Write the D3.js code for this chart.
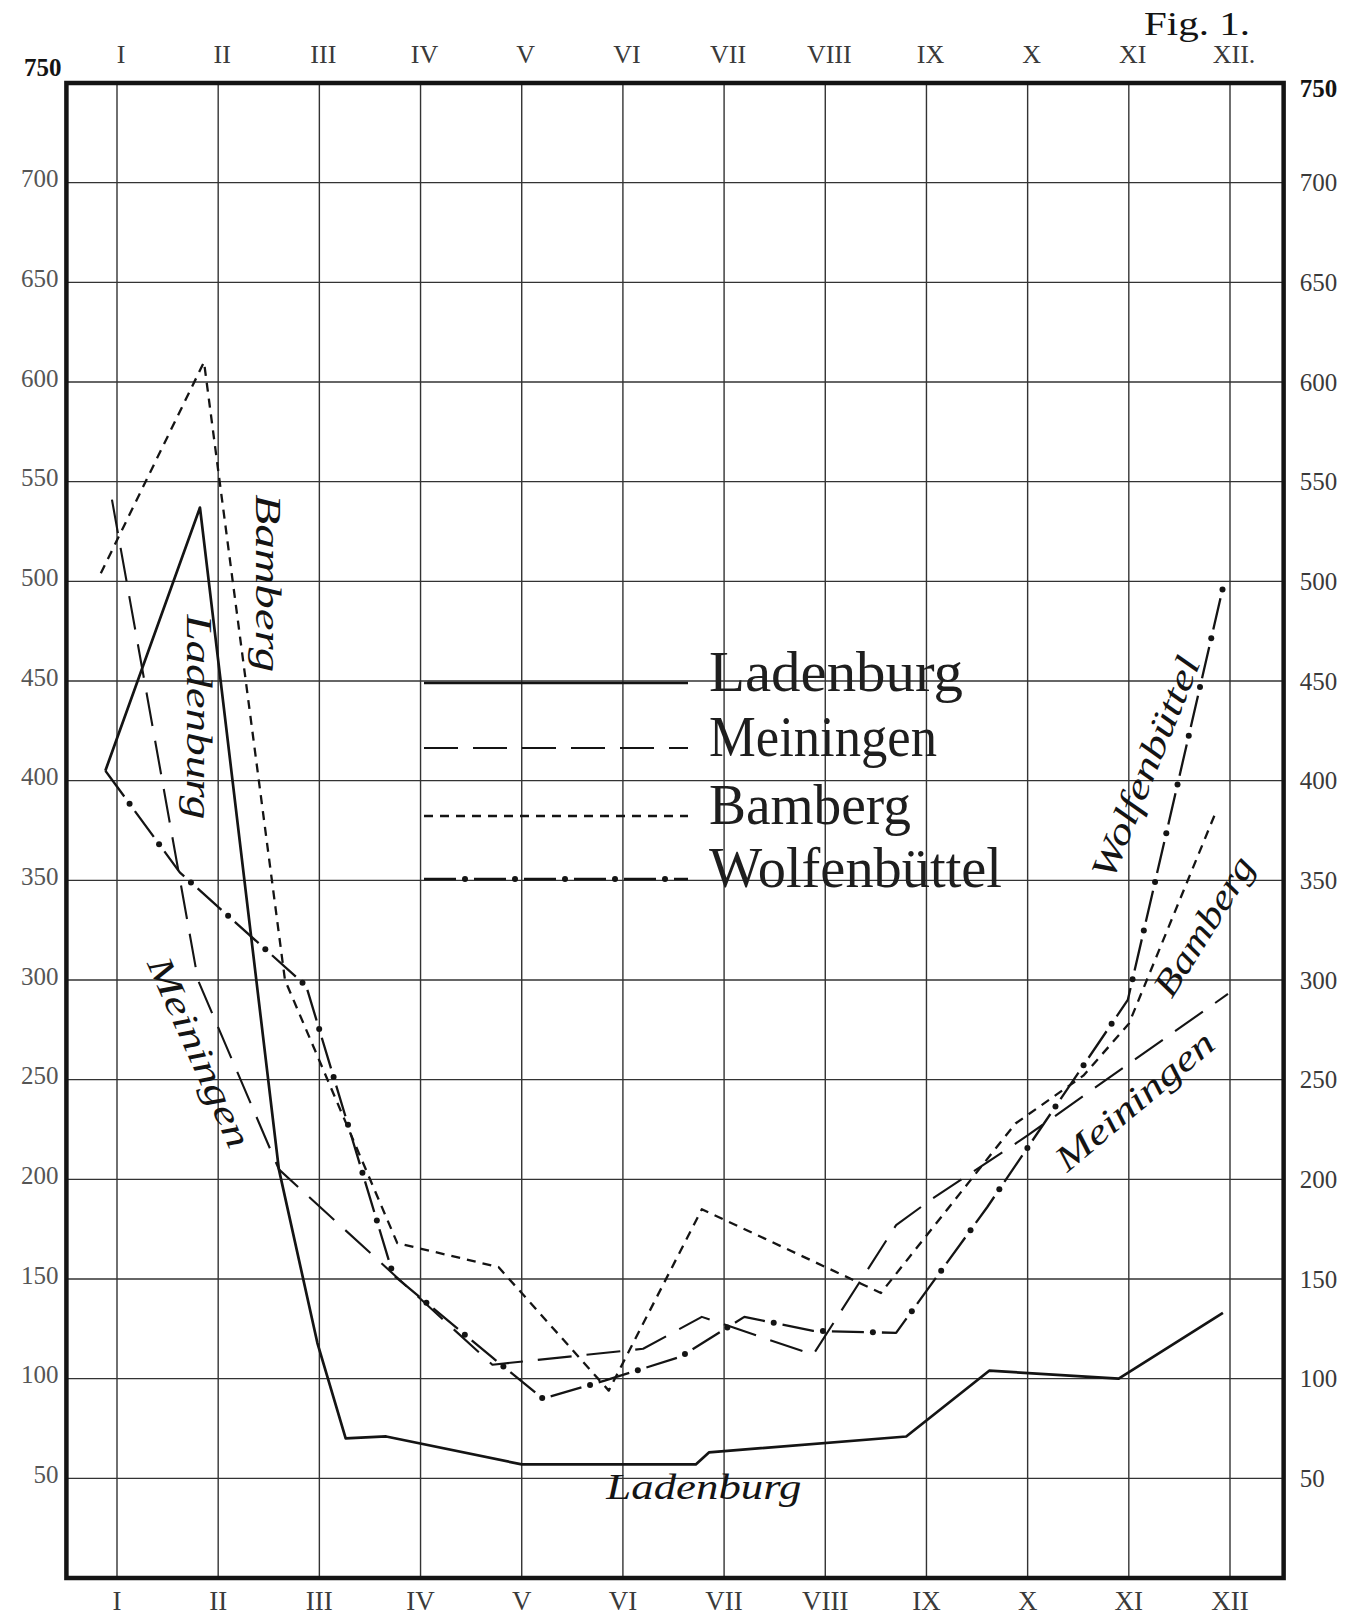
<!DOCTYPE html>
<html><head><meta charset="utf-8">
<script src="https://cdn.jsdelivr.net/npm/d3@7"></script>
<style>
html,body{margin:0;padding:0;background:#fff;}
svg{display:block;}
</style></head><body>
<svg id="chart" width="1362" height="1623"></svg>
<script>
// ---------- data ----------
const monthsBottom = ["I","II","III","IV","V","VI","VII","VIII","IX","X","XI","XII"];
const monthsTop = ["I","II","III","IV","V","VI","VII","VIII","IX","X","XI","XII."];
const yTicks = [50,100,150,200,250,300,350,400,450,500,550,600,650,700];
const yTickTop = 750;
const seriesNames = ["Ladenburg","Meiningen","Bamberg","Wolfenbüttel"];

// [month position, value]
const ladenburg = [[0.885,405],[1.82,537],[2.6,205],[2.98,118],[3.26,70],[3.66,71],[5.0,57],[6.72,57],[6.85,63],[8.8,71],[9.62,104],[10.9,100],[11.93,133]];
const meiningen = [[0.95,541],[1.8,300],[2.6,205],[4.71,107],[6.2,115],[6.78,131],[7.88,112],[8.7,177],[9.05,190],[10.0,222],[11.0,258],[11.98,293]];
const bamberg = [[0.84,504],[1.86,610],[2.66,300],[3.77,168],[4.77,156],[5.86,94],[6.78,185],[8.55,143],[9.88,228],[10.55,252],[11.0,278],[11.85,383]];
const wolfenbuettel = [[0.885,405],[1.62,354],[2.87,297],[3.73,152],[4.70,111],[5.21,90],[5.82,99],[6.57,111],[7.2,131],[7.88,124],[8.7,123],[9.6,186],[10.99,290],[11.94,499]];

// handwritten labels along the curves: [text, month, value, angle]
const curveLabels = [
  ["Bamberg", 2.46, 499, 90],
  ["Ladenburg", 1.77, 432, 90],
  ["Meiningen", 1.78, 263, 66],
  ["Ladenburg", 6.8, 44, 0],
  ["Wolfenbüttel", 11.2, 406, -68],
  ["Bamberg", 11.77, 326, -58],
  ["Meiningen", 11.08, 238, -40]
];
const curveLabelLengths = [178, 205, 205, 195, 236, 158, 196];

// ---------- layout ----------
const svg = d3.select("#chart");
const ink = "#141414";
const x = d3.scaleLinear().domain([1,12]).range([117,1230]);
const y = d3.scaleLinear().domain([0,750]).range([1578,83]);
const frameL = x(0.5), frameR = x(12.53), frameT = y(750), frameB = y(0);

const serif = "'Liberation Serif','DejaVu Serif',serif";

// grid
const grid = svg.append("g").attr("stroke","#333").attr("stroke-width",1.4);
grid.selectAll("line.v").data(d3.range(1,13)).join("line")
  .attr("x1",d=>x(d)).attr("x2",d=>x(d)).attr("y1",frameT).attr("y2",frameB);
grid.selectAll("line.h").data(yTicks).join("line")
  .attr("x1",frameL).attr("x2",frameR).attr("y1",d=>y(d)).attr("y2",d=>y(d));

// frame
svg.append("rect").attr("x",frameL).attr("y",frameT)
  .attr("width",frameR-frameL).attr("height",frameB-frameT)
  .attr("fill","none").attr("stroke",ink).attr("stroke-width",4.5);

// y tick labels (left & right) via axes
const leftAxis = d3.axisLeft(y).tickValues(yTicks).tickSize(0).tickPadding(8).tickFormat(d3.format("d"));
const la = svg.append("g").attr("transform",`translate(${frameL},-4)`).call(leftAxis);
la.select(".domain").remove();
la.selectAll("text").attr("font-family",serif).attr("font-size",25).attr("fill","#555");
const rightAxis = d3.axisRight(y).tickValues(yTicks).tickSize(0).tickPadding(16).tickFormat(d3.format("d"));
const ra = svg.append("g").attr("transform",`translate(${frameR},0)`).call(rightAxis);
ra.select(".domain").remove();
ra.selectAll("text").attr("font-family",serif).attr("font-size",25).attr("fill","#3a3a3a");

// 750 labels
svg.append("text").attr("x",frameL-5).attr("y",y(yTickTop)-13).attr("text-anchor","end")
  .attr("dominant-baseline","middle").attr("font-family",serif).attr("font-weight","bold")
  .attr("font-size",25).attr("fill",ink).text(yTickTop);
svg.append("text").attr("x",frameR+16).attr("y",y(yTickTop)+8)
  .attr("dominant-baseline","middle").attr("font-family",serif).attr("font-weight","bold")
  .attr("font-size",25).attr("fill",ink).text(yTickTop);

// month labels
svg.append("g").selectAll("text").data(monthsTop).join("text")
  .attr("x",(d,i)=>x(i+1)+4).attr("y",57).attr("text-anchor","middle").attr("dominant-baseline","middle")
  .attr("font-family",serif).attr("font-size",26).attr("fill","#3a3a3a").text(d=>d);
svg.append("g").selectAll("text").data(monthsBottom).join("text")
  .attr("x",(d,i)=>x(i+1)).attr("y",1604).attr("text-anchor","middle").attr("dominant-baseline","middle")
  .attr("font-family",serif).attr("font-size",27).attr("fill","#3a3a3a").text(d=>d);

// Fig. 1.
svg.append("text").attr("x",1144).attr("y",35).attr("font-family",serif).attr("font-size",33)
  .attr("textLength",106).attr("lengthAdjust","spacingAndGlyphs").attr("fill",ink).text("Fig. 1.");

// ---------- series ----------
const line = d3.line().x(d=>x(d[0])).y(d=>y(d[1]));
const styles = [
  {dash:null, w:2.7},
  {dash:"34 15", w:2.1},
  {dash:"9 7", w:2.3},
  {dash:"32 18", w:2.3, dots:true}
];
const allSeries = [ladenburg, meiningen, bamberg, wolfenbuettel];
const lines = svg.append("g").attr("fill","none").attr("stroke",ink).attr("stroke-linejoin","round");

function addDots(pathSel, dashLen, gapLen, parent){
  const node = pathSel.node();
  const L = node.getTotalLength();
  for (let s = dashLen + gapLen/2; s < L; s += dashLen + gapLen){
    const p = node.getPointAtLength(s);
    parent.append("circle").attr("cx",p.x).attr("cy",p.y).attr("r",3).attr("fill",ink).attr("stroke","none");
  }
}

allSeries.forEach((data,i)=>{
  const st = styles[i];
  const p = lines.append("path").attr("d",line(data)).attr("stroke-width",st.w);
  if (st.dash) p.attr("stroke-dasharray",st.dash);
  if (st.dots) addDots(p,32,18,lines);
});

// ---------- legend ----------
const legendX0 = 424, legendX1 = 688;
const legendY = [683, 748, 816, 879];
const legendTextLen = [254, 228, 202, 293];
const lg = svg.append("g");
seriesNames.forEach((name,i)=>{
  const st = styles[i];
  const p = lg.append("path").attr("d",`M${legendX0},${legendY[i]}H${legendX1}`)
    .attr("stroke",ink).attr("stroke-width",st.w).attr("fill","none");
  if (st.dash) p.attr("stroke-dasharray",st.dash);
  if (st.dots) addDots(p,32,18,lg);
  lg.append("text").attr("x",legendX1+21).attr("y",legendY[i]+8)
    .attr("font-family",serif).attr("font-size",56).attr("fill","#1e1e1e")
    .attr("textLength",legendTextLen[i]).attr("lengthAdjust","spacingAndGlyphs").text(name);
});

// ---------- handwritten curve labels ----------
const cl = svg.append("g");
curveLabels.forEach((d,i)=>{
  cl.append("text")
    .attr("transform",`translate(${x(d[1])},${y(d[2])}) rotate(${d[3]})`)
    .attr("text-anchor","middle").attr("dominant-baseline","middle")
    .attr("font-family",serif).attr("font-style","italic").attr("font-size",36)
    .attr("textLength",curveLabelLengths[i]).attr("lengthAdjust","spacingAndGlyphs")
    .attr("fill",ink).text(d[0]);
});
</script>
</body></html>
